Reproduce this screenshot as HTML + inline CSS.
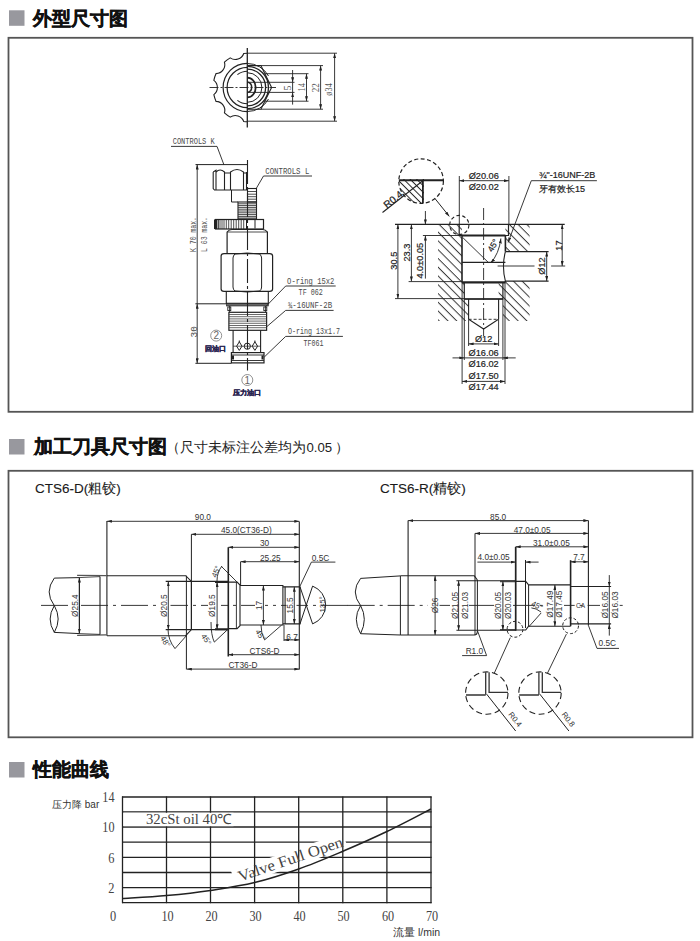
<!DOCTYPE html>
<html><head><meta charset="utf-8">
<style>
html,body{margin:0;padding:0;background:#fff;width:700px;height:941px;overflow:hidden}
svg{position:absolute;left:0;top:0;display:block}
text{font-family:"Liberation Sans",sans-serif}
.s{font-family:"Liberation Serif",serif}
.m{font-family:"Liberation Mono",monospace}
</style></head><body>
<svg width="700" height="941" viewBox="0 0 700 941">
<!-- titles -->
<rect x="9" y="10.3" width="15.5" height="15.5" fill="#98989e"/>
<text x="33" y="25" font-size="18.5" font-weight="bold" fill="#111" stroke="#111" stroke-width="0.45">外型尺寸图</text>
<rect x="9" y="439" width="15.5" height="15.5" fill="#98989e"/>
<text x="34" y="453" font-size="18.5" font-weight="bold" fill="#111" stroke="#111" stroke-width="0.45">加工刀具尺寸图</text>
<text x="166" y="451.5" font-size="14" fill="#222">（</text><text x="180" y="451.5" font-size="14" fill="#222">尺寸未标注公差均为</text><text x="306.5" y="451.5" font-size="13.2" fill="#222">0.05</text><text x="335" y="451.5" font-size="14" fill="#222">）</text>
<rect x="9" y="762" width="15.5" height="15.5" fill="#98989e"/>
<text x="33" y="776" font-size="18.5" font-weight="bold" fill="#111" stroke="#111" stroke-width="0.45">性能曲线</text>

<!-- boxes -->
<rect x="8.5" y="37.8" width="684" height="374" fill="none" stroke="#555" stroke-width="1.8"/>
<rect x="8.5" y="470.8" width="684" height="266.5" fill="none" stroke="#555" stroke-width="1.8"/>

<defs>
  <marker id="ar" viewBox="0 0 10 6" refX="10" refY="3" markerWidth="5" markerHeight="3" markerUnits="userSpaceOnUse" orient="auto-start-reverse"><path d="M0,0 L10,3 L0,6z" fill="#222"/></marker>
  <pattern id="hatch" patternUnits="userSpaceOnUse" width="8.5" height="8.5" patternTransform="rotate(45)"><line x1="0" y1="0" x2="0" y2="8.5" stroke="#333" stroke-width="1.1"/></pattern>
</defs>
<!-- ===== DRAWING 1: top view ===== -->
<g stroke="#222" fill="none" stroke-width="1">
  <path d="M247.30,53.30 A34.2,34.2 0 0 0 243.73,53.49 A8.9,8.9 0 0 1 230.20,57.88 A34.2,34.2 0 0 0 224.42,62.08 A8.9,8.9 0 0 1 216.06,73.59 A34.2,34.2 0 0 0 213.85,80.39 A8.9,8.9 0 0 1 213.85,94.61 A34.2,34.2 0 0 0 216.06,101.41 A8.9,8.9 0 0 1 224.42,112.92 A34.2,34.2 0 0 0 230.20,117.12 A8.9,8.9 0 0 1 243.73,121.51 A34.2,34.2 0 0 0 247.30,121.70" stroke-width="1.1"/>
  <path d="M247.3,63.3 A24.2,24.2 0 0 0 247.3,111.7" stroke-width="1.2"/>
  <path d="M247.3,67.3 A20.2,20.2 0 0 0 247.3,107.7" stroke-width="1.2"/>
  <path d="M237.4,74.6 A16.3,16.3 0 0 1 247.3,71.2" stroke-width="1.1"/>
  <path d="M237.4,100.4 A16.3,16.3 0 0 0 247.3,103.8" stroke-width="1.1"/>
  <!-- right half -->
  <path d="M247.3,65.6 L260.9,65.6 L271.6,87.5 L260.9,109.2 L247.3,109.2" stroke-width="1.1"/>
  <path d="M247.3,63.5 A24,24 0 0 1 268.5,76 M268.5,99 A24,24 0 0 1 247.3,111.5" stroke-width="1"/>
  <path d="M247.3,66.3 A21.2,21.2 0 0 1 247.3,108.7" stroke-width="1.3"/>
  <path d="M247.3,69.2 A18.3,18.3 0 0 1 247.3,105.8" stroke-width="1.3"/>
  <path d="M247.3,72.7 A14.6,14.8 0 0 1 247.3,102.3" stroke-width="1"/>
  <path d="M247.3,77.6 A8.3,9.8 0 0 1 247.3,97.4" stroke-width="1.8"/>
  <path d="M247.3,82 A5.4,5.4 0 0 1 247.3,92.6" stroke-width="1.5"/>
  <line x1="247.3" y1="48" x2="247.3" y2="127.5" stroke-width="1.3"/>
  <line x1="209.5" y1="87.5" x2="276" y2="87.5" stroke-dasharray="9,2,2,2" stroke-width="0.9"/>
  <!-- dimension lines -->
  <g stroke-width="0.9">
    <line x1="247.3" y1="53.2" x2="337" y2="53.2"/>
    <line x1="247.3" y1="121.2" x2="337" y2="121.2"/>
    <line x1="334.6" y1="53.2" x2="334.6" y2="121.2" marker-start="url(#ar)" marker-end="url(#ar)"/>
    <line x1="260.9" y1="65.6" x2="323" y2="65.6"/>
    <line x1="260.9" y1="109.2" x2="323" y2="109.2"/>
    <line x1="320.6" y1="65.6" x2="320.6" y2="109.2" marker-start="url(#ar)" marker-end="url(#ar)"/>
    <line x1="265" y1="73.7" x2="308.5" y2="73.7"/>
    <line x1="265" y1="101.2" x2="308.5" y2="101.2"/>
    <line x1="306.5" y1="73.7" x2="306.5" y2="101.2" marker-start="url(#ar)" marker-end="url(#ar)"/>
    <line x1="247.3" y1="82.3" x2="294.5" y2="82.3"/>
    <line x1="247.3" y1="92.4" x2="294.5" y2="92.4"/>
    <line x1="292.6" y1="70" x2="292.6" y2="82.3" marker-end="url(#ar)"/>
    <line x1="292.6" y1="104.6" x2="292.6" y2="92.4" marker-end="url(#ar)"/>
    <line x1="292.6" y1="82.3" x2="292.6" y2="92.4"/>
  </g>
</g>
<g font-size="9.5" fill="#555" text-anchor="middle">
  <text class="s" transform="translate(290.5,87.9) rotate(-90)" x="0" y="0" textLength="5" lengthAdjust="spacingAndGlyphs">5</text>
  <text class="s" transform="translate(304.8,87.2) rotate(-90)" x="0" y="0" textLength="8.5" lengthAdjust="spacingAndGlyphs">14</text>
  <text class="s" transform="translate(319.3,87.8) rotate(-90)" x="0" y="0" textLength="9" lengthAdjust="spacingAndGlyphs">22</text>
  <text class="s" transform="translate(332.2,89.4) rotate(-90)" x="0" y="0" textLength="12.5" lengthAdjust="spacingAndGlyphs">ø34</text>
</g>

<!-- ===== DRAWING 1b: side view ===== -->
<g stroke="#222" fill="none" stroke-width="1">
  <!-- CONTROLS K leader -->
  <line x1="171" y1="146.4" x2="217" y2="146.4" stroke-width="0.9"/>
  <line x1="217" y1="146.4" x2="224" y2="165" stroke-width="0.9"/>
  <line x1="195.5" y1="164.6" x2="247.5" y2="164.6" stroke-width="1"/>
  <!-- K cap nut -->
  <path d="M213.2,172 L216,170.3 L216,190 M213.2,172 L213.2,188.5 L214.5,190 L246.5,190 L246.5,172" stroke-width="1.1"/>
  <path d="M216,172 Q220,168 224.5,172 L224.5,190 M230.5,190 L230.5,172 Q237,167 243.5,172 L243.5,190 M224.5,173 L230.5,173 M243.5,173 L246.5,173" stroke-width="1.1"/>
  <!-- stem under K -->
  <path d="M231.5,190 L231.5,202 L238,202" stroke-width="1"/>
  <!-- CONTROLS L leader -->
  <line x1="263.5" y1="176" x2="312" y2="176" stroke-width="0.9"/>
  <line x1="263.5" y1="176" x2="256.5" y2="188" stroke-width="0.9"/>
  <!-- L knurl -->
  <rect x="247.5" y="188.5" width="9" height="13.5" stroke-width="1.1"/>
  <path d="M247.5,191.5 H256.5 M247.5,194.2 H256.5 M247.5,196.7 H256.5 M247.5,199.2 H256.5" stroke-width="0.8"/>
  <!-- thread -->
  <rect x="238" y="202" width="18.5" height="17" stroke-width="1.1"/>
  <path d="M238,203.8 H256.5 M238,205.6 H256.5 M238,207.4 H256.5 M238,209.2 H256.5 M238,211 H256.5 M238,212.8 H256.5 M238,214.6 H256.5 M238,216.4 H256.5 M238,218 H256.5" stroke-width="0.9" stroke="#333"/>
  <!-- knurled nut -->
  <rect x="215.5" y="219.5" width="48" height="9.5" stroke-width="1.2"/>
  <path d="M217,219.5 V229 M218.5,219.5 V229 M220,219.5 V229 M222,219.5 V229 M224,219.5 V229 M226.3,219.5 V229 M228.7,219.5 V229 M231.2,219.5 V229 M233.7,219.5 V229 M236.2,219.5 V229 M238.7,219.5 V229 M241.2,219.5 V229 M243.7,219.5 V229" stroke-width="0.8"/>
  <path d="M215.5,219.5 V229" stroke-width="3"/>
  <path d="M246.5,219.5 V229 M255,220 V228.5" stroke-width="1"/>
  <!-- body -->
  <path d="M227.1,253.7 V232 Q229,229.5 232,229.5 H262.5 Q265.5,229.5 267.4,232 V253.7" stroke-width="1.2"/>
  <line x1="227.1" y1="232" x2="267.4" y2="232" stroke-width="0.8"/>
  <!-- hex -->
  <path d="M221.1,256 Q221.1,253.7 224,253.7 H269.7 Q272.6,253.7 272.6,256 V289 Q272.6,291.4 269.7,291.4 H224 Q221.1,291.4 221.1,289 Z" stroke-width="1.2"/>
  <path d="M234.9,254 Q233,256 233,258 V287 Q233,289.5 234.9,291 M259.7,254 Q261.6,256 261.6,258 V287 Q261.6,289.5 259.7,291 M234.9,254 Q247,252 259.7,254 M234.9,291 Q247,293 259.7,291" stroke-width="1"/>
  <!-- lower body -->
  <path d="M226.3,291.4 V303.4 H268.3 V291.4" stroke-width="1.1"/>
  <rect x="226.3" y="303.4" width="42" height="2.6" fill="#666" stroke-width="0.6"/>
  <!-- o-ring groove -->
  <path d="M229.7,306 V312.3 M265.7,306 V312.3" stroke-width="1"/>
  <rect x="227.8" y="307" width="3" height="3.5" stroke-width="0.9"/>
  <rect x="263.8" y="307" width="3" height="3.5" stroke-width="0.9"/>
  <!-- threads -->
  <rect x="228.9" y="312.3" width="37.7" height="18" stroke-width="1.2"/>
  <path d="M228.9,314.5 H266.6 M228.9,316.7 H266.6 M228.9,318.9 H266.6 M228.9,321.1 H266.6 M228.9,323.3 H266.6 M228.9,325.5 H266.6 M228.9,327.7 H266.6" stroke-width="0.8" stroke="#444"/>
  <!-- stem -->
  <path d="M233.1,330.3 V352.6 M260.6,330.3 V352.6" stroke-width="1.1"/>
  <g stroke-width="1">
    <path d="M239.3,341.8 L242,346.2 L239.3,350.4 L236.6,346.2 Z M239.3,340.5 V342"/>
    <circle cx="247.3" cy="346.2" r="3.1"/>
    <path d="M254.9,341.8 L257.6,346.2 L254.9,350.4 L252.2,346.2 Z M254.9,340.5 V342"/>
    <path d="M233.1,346.2 H260.6" stroke-width="0.7"/>
  </g>
  <!-- bottom ring -->
  <rect x="231.4" y="352.6" width="32.6" height="10.3" stroke-width="1.2"/>
  <path d="M231.4,355 H264 M231.4,360.5 H264" stroke-width="0.9"/>
  <rect x="232" y="355.5" width="2" height="4" fill="#222" stroke="none"/>
  <rect x="261.5" y="355.5" width="2" height="4" fill="#222" stroke="none"/>
  <!-- center line -->
  <line x1="247.5" y1="160" x2="247.5" y2="370.6" stroke-width="1.1" stroke-dasharray="24,3,3,3"/>
  <!-- dims -->
  <line x1="197.2" y1="164.6" x2="197.2" y2="303.8" stroke-width="0.9" marker-start="url(#ar)"/>
  <line x1="195.4" y1="303.8" x2="226.3" y2="303.8" stroke-width="1"/>
  <line x1="197.2" y1="303.8" x2="197.2" y2="363.3" stroke-width="0.9" marker-start="url(#ar)" marker-end="url(#ar)"/>
  <line x1="195.4" y1="363.3" x2="231.4" y2="363.3" stroke-width="1"/>
  <!-- right leaders -->
  <g stroke-width="0.9">
    <path d="M335.7,286 H285.7 L266,306.4"/>
    <path d="M333.6,310.4 H285.7 L266.4,327"/>
    <path d="M342.9,336.4 H285.7 L264.3,357"/>
  </g>
  <!-- port circles -->
  <circle cx="216.2" cy="335.6" r="5.5" stroke-width="0.8" stroke="#777"/>
  <circle cx="247.3" cy="380" r="5.5" stroke-width="0.8" stroke="#777"/>
</g>
<g fill="#4a4a4a">
  <g class="m" font-size="8.5" style="font-family:'Liberation Serif',serif">
    <text class="m" x="172.7" y="144" font-size="9.5" textLength="42" lengthAdjust="spacingAndGlyphs">CONTROLS K</text>
    <text class="m" x="265.3" y="173.6" font-size="9.5" textLength="44" lengthAdjust="spacingAndGlyphs">CONTROLS L</text>
    <text class="m" x="287.1" y="283.8" font-size="9.5" textLength="47.2" lengthAdjust="spacingAndGlyphs">O-ring 15x2</text>
    <text class="m" x="298.6" y="295.2" font-size="9.5" textLength="24.3" lengthAdjust="spacingAndGlyphs">TF 062</text>
    <text class="m" x="287.9" y="308" font-size="9.5" textLength="44.2" lengthAdjust="spacingAndGlyphs">¾-16UNF-2B</text>
    <text class="m" x="287.9" y="334.4" font-size="9.5" textLength="52.1" lengthAdjust="spacingAndGlyphs">O-ring 13x1.7</text>
    <text class="m" x="303.6" y="345.8" font-size="9.5" textLength="20" lengthAdjust="spacingAndGlyphs">TF061</text>
    <text class="m" transform="translate(196,252) rotate(-90)" x="0" y="0" font-size="9.5" textLength="35" lengthAdjust="spacingAndGlyphs">K 70 max.</text>
    <text class="m" transform="translate(207,252) rotate(-90)" x="0" y="0" font-size="9.5" textLength="35" lengthAdjust="spacingAndGlyphs">L 63 max.</text>
    <text class="m" transform="translate(196.6,337.5) rotate(-90)" x="0" y="0" font-size="9.5">30</text>
  </g>
  <text x="216.3" y="339.2" font-size="10" fill="#666" text-anchor="middle">2</text>
  <text x="247.3" y="383.6" font-size="10" fill="#666" text-anchor="middle">1</text>
  <text x="204.8" y="350.6" font-size="7.2" fill="#2a2550" stroke="#2a2550" stroke-width="0.3" font-weight="bold" textLength="21.2" lengthAdjust="spacingAndGlyphs">回油口</text>
  <text x="232.5" y="394.6" font-size="7.2" fill="#2a2550" stroke="#2a2550" stroke-width="0.3" font-weight="bold" textLength="28.6" lengthAdjust="spacingAndGlyphs">压力油口</text>
</g>

<!-- ===== DRAWING 1c: cavity ===== -->
<defs>
  <pattern id="h1" patternUnits="userSpaceOnUse" width="6.2" height="6.2" patternTransform="rotate(-45)"><line x1="3" y1="-1" x2="3" y2="8" stroke="#222" stroke-width="0.9"/></pattern>
  <pattern id="h2" patternUnits="userSpaceOnUse" width="4.6" height="4.6" patternTransform="rotate(-45)"><line x1="2.3" y1="-1" x2="2.3" y2="6" stroke="#222" stroke-width="1"/></pattern>
  <clipPath id="cl1"><path d="M438,224.5 H462 V282.3 H464.3 V299 H468.6 V321 H438 Z"/></clipPath>
  <clipPath id="cl2"><path d="M505.4,224.5 H529.6 V251.6 H505.4 Z M505.4,281.1 H529.6 V321 H502.9 V299 H498.6 V282.3 H505.4Z"/></clipPath>
  <clipPath id="cl3"><path d="M398.6,180 H422.9 V204 H398.6 Z"/></clipPath>
  <clipPath id="cc3"><circle cx="421.1" cy="181.1" r="22.3"/></clipPath>
</defs>
<g stroke="#222" fill="none" stroke-width="1">
  <rect x="437" y="224" width="33" height="98" fill="url(#h1)" stroke="none" clip-path="url(#cl1)"/>
  <rect x="498" y="224" width="33" height="98" fill="url(#h1)" stroke="none" clip-path="url(#cl2)"/>
  <!-- top surface -->
  <line x1="395" y1="224.4" x2="564.7" y2="224.4" stroke-width="1.2"/>
  <!-- counterbore -->
  <path d="M459.2,224.4 V235.5 H508.5 V224.4" stroke-width="1.2"/>
  <line x1="462" y1="235.5" x2="505.4" y2="235.5" stroke-width="2"/>
  <!-- thread bore -->
  <path d="M462,235.5 V282.3 M505.4,235.5 V251.6 M505.4,281.1 V282.3" stroke-width="1.6"/>
  <line x1="462" y1="262.4" x2="505.4" y2="262.4" stroke-width="1.1"/>
  <line x1="462" y1="282.3" x2="505.4" y2="282.3" stroke-width="2.2"/>
  <!-- bore 2 -->
  <path d="M464.3,282.3 V299 H502.9 V282.3" stroke-width="1.2"/>
  <line x1="464.3" y1="299" x2="502.9" y2="299" stroke-width="1.6"/>
  <!-- bore 3 -->
  <path d="M468.6,299 V319.3 L483.6,329 L498.6,319.3 V299" stroke-width="1.1"/>
  <line x1="468.6" y1="319.3" x2="498.6" y2="319.3" stroke-dasharray="3,2" stroke-width="0.9"/>
  <!-- port -->
  <path d="M505.4,251.6 Q501.5,266.3 505.4,281.1" stroke-width="1.1"/>
  <line x1="505.4" y1="251.6" x2="548.6" y2="251.6" stroke-width="1.1"/>
  <line x1="505.4" y1="281.1" x2="548.6" y2="281.1" stroke-width="1.1"/>
  <path d="M497.6,266 H534.5 M551.1,266 H565.2" stroke-width="0.9"/>
  <!-- 45 deg -->
  <line x1="463.1" y1="237.9" x2="488.3" y2="262.4" stroke-width="0.9"/>
  <path d="M500.9,238.5 Q499,254 490.6,263" stroke-width="0.9" marker-start="url(#ar)" marker-end="url(#ar)"/>
  <!-- center line -->
  <line x1="483.6" y1="208" x2="483.6" y2="336" stroke-dasharray="12,3,2,3" stroke-width="0.9"/>
  <!-- left dims -->
  <g stroke-width="0.9">
    <line x1="397.9" y1="224.4" x2="397.9" y2="298.6" marker-start="url(#ar)" marker-end="url(#ar)"/>
    <line x1="395" y1="298.6" x2="464.3" y2="298.6"/>
    <line x1="411.4" y1="224.4" x2="411.4" y2="281.4" marker-start="url(#ar)" marker-end="url(#ar)"/>
    <line x1="408.6" y1="281.6" x2="462" y2="281.6"/>
    <line x1="425.4" y1="211" x2="425.4" y2="224.4" marker-end="url(#ar)"/>
    <line x1="425.4" y1="278.6" x2="425.4" y2="235.5" marker-end="url(#ar)"/>
    <line x1="422.9" y1="235.5" x2="462" y2="235.5"/>
    <!-- right dims -->
    <line x1="562.2" y1="224.4" x2="562.2" y2="266" marker-start="url(#ar)" marker-end="url(#ar)"/>
    <line x1="546.7" y1="251.6" x2="546.7" y2="281.1" marker-start="url(#ar)" marker-end="url(#ar)"/>
    <!-- top dims -->
    <line x1="459.3" y1="176" x2="459.3" y2="224.4"/>
    <line x1="508.9" y1="176" x2="508.9" y2="224.4"/>
    <line x1="459.3" y1="180.7" x2="508.9" y2="180.7" marker-start="url(#ar)" marker-end="url(#ar)"/>
    <!-- bottom dims -->
    <line x1="462.1" y1="282.3" x2="462.1" y2="384"/>
    <line x1="505" y1="282.3" x2="505" y2="384"/>
    <line x1="464.3" y1="299" x2="464.3" y2="360"/>
    <line x1="502.9" y1="299" x2="502.9" y2="360"/>
    <line x1="468.6" y1="320" x2="468.6" y2="346"/>
    <line x1="498.6" y1="320" x2="498.6" y2="346"/>
    <line x1="468.6" y1="343.9" x2="498.6" y2="343.9" marker-start="url(#ar)" marker-end="url(#ar)"/>
    <line x1="452.5" y1="357.9" x2="464.3" y2="357.9" marker-end="url(#ar)"/>
    <line x1="515.7" y1="357.9" x2="502.9" y2="357.9" marker-end="url(#ar)"/>
    <line x1="464.3" y1="357.9" x2="502.9" y2="357.9"/>
    <line x1="462.1" y1="381.4" x2="505" y2="381.4" marker-start="url(#ar)" marker-end="url(#ar)"/>
    <!-- thread note leader -->
    <path d="M596.9,180.7 H531.3 L508.1,242.4" marker-end="url(#ar)"/>
  </g>
  <!-- detail circle -->
  <rect x="398" y="179" width="26" height="26" fill="url(#h2)" stroke="none" clip-path="url(#cc3)"/>
  <g clip-path="url(#cc3)"><rect x="398.6" y="180" width="24.3" height="24" fill="none" stroke="none"/></g>
  <circle cx="421.1" cy="181.1" r="22.3" stroke-dasharray="4,2.5" stroke-width="1.2"/>
  <line x1="399" y1="180.2" x2="443.4" y2="180.2" stroke-width="2"/>
  <line x1="422.9" y1="180.2" x2="422.9" y2="203.2" stroke-width="1.8"/>
  <line x1="382.5" y1="212.5" x2="422.5" y2="181" stroke-width="1.1"/>
  <path d="M435,198.6 L449.3,216.4" marker-end="url(#ar)"/>
  <circle cx="459.3" cy="225" r="9.6" stroke-dasharray="3.5,2.5" stroke-width="1.1"/>
</g>
<g fill="#222" font-size="9.2" text-anchor="middle" stroke="#222" stroke-width="0.2">
  <text x="483.7" y="178.8">Ø20.06</text>
  <text x="483.7" y="190.3">Ø20.02</text>
  <text x="483.6" y="341.8">Ø12</text>
  <text x="483.6" y="356.3">Ø16.06</text>
  <text x="483.6" y="367">Ø16.02</text>
  <text x="483.6" y="379.2">Ø17.50</text>
  <text x="483.6" y="390">Ø17.44</text>
  <text transform="translate(396.8,260.7) rotate(-90)">30.5</text>
  <text transform="translate(410.3,252.6) rotate(-90)">23.3</text>
  <text transform="translate(423.3,260.7) rotate(-90)">4.0±0.05</text>
  <text transform="translate(545,266) rotate(-90)">Ø12</text>
  <text transform="translate(562,245.6) rotate(-90)">17</text>
  <text transform="translate(495.5,247) rotate(-60)" font-size="8.5">45°</text>
  <text transform="translate(395.3,202.2) rotate(-39)" font-size="10">R0.4</text>
  <text x="539" y="178.2" text-anchor="start" font-size="9">¾"-16UNF-2B</text>
  <text x="539" y="191.5" text-anchor="start" font-size="9">牙有效长15</text>
</g>

<!-- ===== DRAWING 2a: CTS6-D ===== -->
<g stroke="#222" fill="none" stroke-width="1">
  <!-- centerline -->
  <line x1="41" y1="605.4" x2="348" y2="605.4" stroke-dasharray="27,5,3,5" stroke-width="0.9"/>
  <g fill="#fff" stroke="none"><rect x="70" y="603" width="11" height="5"/><rect x="157" y="603" width="13.5" height="5"/><rect x="208" y="603" width="13" height="5"/><rect x="255" y="603" width="10" height="5"/><rect x="286.5" y="603" width="10" height="5"/></g>
  <!-- shank break -->
  <path d="M54.3,578.1 Q44,592 54.3,605.6 Q62,619 54.3,632.4 Q46,619 54.3,605.6" stroke-width="1"/>
  <path d="M54.3,578.1 L79.4,577.6 M54.3,632.4 L79.4,633.6" stroke-width="1"/>
  <line x1="79.4" y1="577.6" x2="79.4" y2="633.6" stroke-width="1.1"/>
  <path d="M77.1,575.3 L106.3,575.6 M77.1,635.3 L106.3,634.8" stroke-width="1.2" stroke="#555"/>
  <path d="M79.4,577.6 L100,576.6 M79.4,633.6 L100,634.4" stroke-width="0.8"/>
  <line x1="100" y1="576.6" x2="100" y2="634.4" stroke-width="1.1"/>
  <!-- body -->
  <path d="M106.9,575.7 H185.7 L191.4,581.4 V629.6 L185.7,635.7 H106.9" stroke-width="1.1"/>
  <line x1="106.9" y1="521" x2="106.9" y2="635.7" stroke-width="1.1"/>
  <line x1="186.4" y1="575.7" x2="186.4" y2="669.5" stroke-width="1"/>
  <!-- ø20.5 section -->
  <path d="M165.7,581.4 H228.3 M165.7,629.6 H228.3" stroke-width="1.1"/>
  <path d="M215,582.1 H228.3 M215,629.3 H228.3" stroke-width="2"/>
  <line x1="191.4" y1="534.3" x2="191.4" y2="629.6" stroke-width="1"/>
  <line x1="228.3" y1="547.3" x2="228.3" y2="656.5" stroke-width="1.6"/>
  <!-- collar -->
  <path d="M228.3,582.1 H237.1 L240,585 V625.7 L237.1,628.6 H228.3" stroke-width="1.1"/>
  <line x1="236.4" y1="582.1" x2="236.4" y2="628.6" stroke-width="0.9"/>
  <!-- ø17 section -->
  <path d="M240,585.5 H282.9 V625 H240" stroke-width="1.1"/>
  <line x1="240.6" y1="561.7" x2="240.6" y2="585" stroke-width="1"/>
  <!-- ø15.5 section -->
  <path d="M282.9,586.8 H300 V623.9 H282.9" stroke-width="1.2"/>
  <line x1="285.1" y1="586.8" x2="285.1" y2="623.9" stroke-width="1.1"/>
  <line x1="284" y1="625" x2="284" y2="641" stroke-width="0.9"/>
  <line x1="299.3" y1="521.5" x2="299.3" y2="669.6" stroke-width="1.1"/>
  <!-- tip 135 -->
  <path d="M300,586.8 L312.6,623.9 M300,623.9 L312.6,586.1" stroke-width="1"/>
  <path d="M312.6,586.1 A20.2,20.2 0 0 1 312.6,623.9" stroke-width="1"/>
  <!-- chamfer angle marks -->
  <path d="M221.4,566.4 L237.1,582.1 M214.3,642.1 L227.9,629.3 M175,648.6 L186.4,635.7 M264.6,639.9 L281.7,625" stroke-width="0.9"/>
  <path d="M217,581 Q217,572 222,566 M211,622 Q211,635 214.3,642.1 M168,629 Q168,640 175,648.6 M261,625 Q261,634 264.6,639.9" stroke-width="0.9"/>
  <!-- dims -->
  <g stroke-width="0.9">
    <line x1="106.9" y1="521.3" x2="299.3" y2="521.3" marker-start="url(#ar)" marker-end="url(#ar)"/>
    <line x1="191.4" y1="534.3" x2="299.3" y2="534.3" marker-start="url(#ar)" marker-end="url(#ar)"/>
    <line x1="228.3" y1="547.3" x2="299.3" y2="547.3" marker-start="url(#ar)" marker-end="url(#ar)"/>
    <line x1="240.6" y1="561.7" x2="299.3" y2="561.7" marker-start="url(#ar)" marker-end="url(#ar)"/>
    <line x1="228.3" y1="654.7" x2="299.3" y2="654.7" marker-start="url(#ar)" marker-end="url(#ar)"/>
    <line x1="186.9" y1="669.1" x2="299.3" y2="669.1" marker-start="url(#ar)" marker-end="url(#ar)"/>
    <line x1="284" y1="639.9" x2="299.3" y2="639.9" marker-start="url(#ar)" marker-end="url(#ar)"/>
    <line x1="79.4" y1="577.6" x2="79.4" y2="633.6" marker-start="url(#ar)" marker-end="url(#ar)"/>
    <line x1="168.3" y1="581.4" x2="168.3" y2="629.6" marker-start="url(#ar)" marker-end="url(#ar)"/>
    <line x1="217.1" y1="582.1" x2="217.1" y2="629.3" marker-start="url(#ar)" marker-end="url(#ar)"/>
    <line x1="263.4" y1="585.5" x2="263.4" y2="625" marker-start="url(#ar)" marker-end="url(#ar)"/>
    <line x1="294.3" y1="586.8" x2="294.3" y2="623.9" marker-start="url(#ar)" marker-end="url(#ar)"/>
    <path d="M335.4,562.1 H311.4 L300,586.1"/>
  </g>
</g>
<g fill="#333" font-size="8.3" text-anchor="middle">
  <text x="202.9" y="520.3">90.0</text>
  <text x="246.3" y="532.5">45.0(CT36-D)</text>
  <text x="264.6" y="546">30</text>
  <text x="270.3" y="560.8">25.25</text>
  <text x="320.5" y="560.8">0.5C</text>
  <text x="292" y="639.5">6.7</text>
  <text x="264.6" y="653.5">CTS6-D</text>
  <text x="242.9" y="668.3">CT36-D</text>
  <text transform="translate(77.5,605.6) rotate(-90)">Ø25.4</text>
  <text transform="translate(166.5,605.6) rotate(-90)">Ø20.5</text>
  <text transform="translate(215.3,605.6) rotate(-90)">Ø19.5</text>
  <text transform="translate(261.7,605.4) rotate(-90)">17</text>
  <text transform="translate(292.6,605.4) rotate(-90)">15.5</text>
  <text transform="translate(324.5,604.4) rotate(-90)" font-size="7.8">135°</text>
  <text transform="translate(215.7,571.4) rotate(-68)" y="3" font-size="7.8">45°</text>
  <text transform="translate(206.5,639.3) rotate(58)" y="3" font-size="7.8">45°</text>
  <text transform="translate(260.7,634.9) rotate(58)" y="3" font-size="7.8">45°</text>
  <text transform="translate(165.7,641.4) rotate(58)" y="3" font-size="7.8">48°</text>
</g>
<text x="35" y="493.3" font-size="13.5" fill="#1a1a1a" stroke="#1a1a1a" stroke-width="0.12">CTS6-D(粗铰)</text>

<!-- ===== DRAWING 2b: CTS6-R ===== -->
<g stroke="#222" fill="none" stroke-width="1">
  <line x1="347.7" y1="605.4" x2="626" y2="605.4" stroke-dasharray="27,5,3,5" stroke-width="0.9"/>
  <g fill="#fff" stroke="none"><rect x="428" y="603" width="11.5" height="5"/><rect x="450" y="603" width="19" height="5"/><rect x="494" y="603" width="19" height="5"/><rect x="546" y="603" width="18" height="5"/><rect x="600" y="603" width="19" height="5"/></g>
  <!-- shank -->
  <path d="M360.6,578.4 Q350,592 360.6,605.6 Q368,619 360.6,633.7 Q352,619 360.6,605.6" stroke-width="1"/>
  <path d="M360.6,578.4 L400.4,575.9 M360.6,633.7 L400.4,635" stroke-width="1"/>
  <line x1="400.4" y1="575.9" x2="400.4" y2="635" stroke-width="1"/>
  <!-- body ø26 -->
  <path d="M400.4,575.8 H474.3 L477.4,580 M400.4,635 H474.3 Q477.4,635 477.4,630.7" stroke-width="1.1"/>
  <line x1="408.1" y1="520.6" x2="408.1" y2="635" stroke-width="1.1"/>
  <line x1="475" y1="533.4" x2="475" y2="635" stroke-width="1"/>
  <line x1="477.4" y1="580" x2="477.4" y2="630.7" stroke-width="1"/>
  <!-- ø21 -->
  <path d="M456.4,580.7 H515.7 M456.4,630.3 H515.7" stroke-width="1.1"/>
  <path d="M500,581.2 H515.7 M500,630 H515.7" stroke-width="2" stroke="#444"/>
  <line x1="515.7" y1="546.8" x2="515.7" y2="630.7" stroke-width="1.7"/>
  <!-- short section -->
  <path d="M515.7,581.4 H525.7 L528.6,584.9 M515.7,630 H525.7 L528.6,626.2" stroke-width="1.1"/>
  <line x1="525.5" y1="560" x2="525.5" y2="628" stroke-width="1"/>
  <line x1="528.6" y1="584.9" x2="528.6" y2="626.2" stroke-width="1"/>
  <!-- ø17.49 -->
  <path d="M528.6,584.9 H570.6 M528.6,626.2 H570.6" stroke-width="1.1"/>
  <line x1="570.6" y1="560.2" x2="570.6" y2="626.2" stroke-width="1.6"/>
  <!-- ø16 sections -->
  <path d="M570.6,586.5 H611.1 M570.6,623.9 H611.1" stroke-width="1.1"/>
  <line x1="588.4" y1="520.6" x2="588.4" y2="625.4" stroke-width="1.1"/>
  <!-- 45 chamfer -->
  <path d="M528.6,627 L541.2,612.9 M531.4,607.9 Q536,608 541,612" stroke-width="0.9"/>
  <path d="M525.7,627.9 L540,612" stroke-width="0"/>
  <!-- dashed detail markers -->
  <circle cx="515" cy="629.3" r="7.9" stroke-dasharray="3,2" stroke-width="1"/>
  <circle cx="570.6" cy="625.7" r="7.9" stroke-dasharray="3,2" stroke-width="1"/>
  <path d="M510.3,637.6 L494.3,673.1 M566.4,634.1 L547.5,673.1" stroke-width="0.9"/>
  <!-- detail circles -->
  <circle cx="486.8" cy="693.1" r="21.2" stroke-dasharray="6,3.5" stroke-width="1.1"/>
  <path d="M485.7,672.3 V694.5 M489.1,672.3 V692.3 H508 M466,695 H485.7" stroke-width="1.3" stroke="#333"/>
  <line x1="486.6" y1="694.1" x2="515.7" y2="731" stroke-width="1"/>
  <circle cx="540" cy="693.1" r="21.2" stroke-dasharray="6,3.5" stroke-width="1.1"/>
  <path d="M538.9,672.3 V694.5 M542.3,672.3 V692.3 H561.2 M519.2,695 H538.9" stroke-width="1.3" stroke="#333"/>
  <line x1="539.8" y1="694.1" x2="568.9" y2="731" stroke-width="1"/>
  <!-- dims -->
  <g stroke-width="0.9">
    <line x1="408.1" y1="520.6" x2="588.4" y2="520.6" marker-start="url(#ar)" marker-end="url(#ar)"/>
    <line x1="475" y1="533.4" x2="588.4" y2="533.4" marker-start="url(#ar)" marker-end="url(#ar)"/>
    <line x1="515.7" y1="546.8" x2="588.4" y2="546.8" marker-start="url(#ar)" marker-end="url(#ar)"/>
    <line x1="477.4" y1="562.1" x2="515.7" y2="562.1" marker-end="url(#ar)"/>
    <line x1="538.6" y1="562.1" x2="525.5" y2="562.1" marker-end="url(#ar)"/>
    <line x1="570.6" y1="561.8" x2="588.4" y2="561.8" marker-start="url(#ar)" marker-end="url(#ar)"/>
    <line x1="435.1" y1="575.9" x2="435.1" y2="635" marker-start="url(#ar)" marker-end="url(#ar)"/>
    <line x1="458.6" y1="580.7" x2="458.6" y2="630.3" marker-start="url(#ar)" marker-end="url(#ar)"/>
    <line x1="502.9" y1="581.4" x2="502.9" y2="630" marker-start="url(#ar)" marker-end="url(#ar)"/>
    <line x1="554.9" y1="584.9" x2="554.9" y2="626.2" marker-start="url(#ar)" marker-end="url(#ar)"/>
    <line x1="609.3" y1="575.1" x2="609.3" y2="586.5" marker-end="url(#ar)"/>
    <line x1="609.3" y1="635.6" x2="609.3" y2="623.9" marker-end="url(#ar)"/>
    <line x1="609.3" y1="586.5" x2="609.3" y2="623.9"/>
    <path d="M486.6,655.6 H462.1 M486.6,655.6 L477.6,631.1"/>
    <path d="M619,648.4 H597 L588.4,625.4"/>
  </g>
</g>
<g fill="#333" font-size="8.3" text-anchor="middle">
  <text x="498.1" y="520">85.0</text>
  <text x="532.1" y="532.8">47.0±0.05</text>
  <text x="551.4" y="545.6">31.0±0.05</text>
  <text x="493.6" y="559.5">4.0±0.05</text>
  <text x="578.9" y="560.2">7.7</text>
  <text x="474.4" y="654">R1.0</text>
  <text x="607.3" y="646">0.5C</text>
  <text transform="translate(438.3,605.4) rotate(-90)">Ø26</text>
  <text transform="translate(457.6,605.4) rotate(-90)">Ø21.05</text>
  <text transform="translate(467.6,605.4) rotate(-90)">Ø21.03</text>
  <text transform="translate(501.2,605.4) rotate(-90)">Ø20.05</text>
  <text transform="translate(511.2,605.4) rotate(-90)">Ø20.03</text>
  <text transform="translate(552.9,604.2) rotate(-90)">Ø17.49</text>
  <text transform="translate(561.6,604.2) rotate(-90)">Ø17.45</text>
  <text transform="translate(608.2,605) rotate(-90)">Ø16.05</text>
  <text transform="translate(617.6,605) rotate(-90)">Ø16.03</text>
  <text transform="translate(536,608) rotate(25)" font-size="7.8">45°</text>
  <text transform="translate(513,721) rotate(52)" font-size="7.8">R0.4</text>
  <text transform="translate(566.2,721) rotate(52)" font-size="7.8">R0.8</text>
  <text x="580.5" y="608" font-size="6.5">CA</text>
</g>
<text x="380" y="493.3" font-size="13.5" fill="#1a1a1a" stroke="#1a1a1a" stroke-width="0.12">CTS6-R(精铰)</text>

<!-- CHART -->
<g id="chart" stroke="#222" fill="none">
<g stroke-width="1.3">
<line x1="122" y1="797" x2="431.6" y2="797"/>
<line x1="122" y1="811.9" x2="431.6" y2="811.9"/>
<line x1="122" y1="827" x2="431.6" y2="827"/>
<line x1="122" y1="842.2" x2="431.6" y2="842.2"/>
<line x1="122" y1="857.4" x2="431.6" y2="857.4"/>
<line x1="122" y1="872.5" x2="431.6" y2="872.5"/>
<line x1="122" y1="887.6" x2="431.6" y2="887.6"/>
<line x1="122" y1="902.6" x2="431.6" y2="902.6"/>
</g>
<g transform="translate(239,882) rotate(-18.8)"><rect x="-4" y="-13" width="118" height="16" fill="#fff" stroke="none"/></g>
<g stroke-width="1.3">
<line x1="122.5" y1="796.4" x2="122.5" y2="903.2"/>
<line x1="166.5" y1="796.4" x2="166.5" y2="903.2"/>
<line x1="210.5" y1="796.4" x2="210.5" y2="903.2"/>
<line x1="254.6" y1="796.4" x2="254.6" y2="903.2"/>
<line x1="298.7" y1="796.4" x2="298.7" y2="903.2"/>
<line x1="342.8" y1="796.4" x2="342.8" y2="903.2"/>
<line x1="386.9" y1="796.4" x2="386.9" y2="903.2"/>
<line x1="431" y1="796.4" x2="431" y2="903.2"/>
</g>
<rect x="123.5" y="812.8" width="110" height="13.4" fill="#fff" stroke="none"/>
<path d="M122.5,898.6 C129.8,898.1 151.8,897.0 166.5,895.6 C181.2,894.2 195.8,892.6 210.5,890.4 C225.2,888.2 239.9,886.2 254.6,882.6 C269.3,879.0 284.0,874.2 298.7,869.0 C313.4,863.8 328.1,857.5 342.8,851.3 C357.5,845.0 372.2,838.5 386.9,831.5 C401.6,824.5 423.6,812.8 431.0,809.0" stroke-width="1.5"/>
</g>
<g fill="#444" font-size="12.5">
  <text class="s" x="146" y="824.2" font-size="14" textLength="86" lengthAdjust="spacingAndGlyphs">32cSt oil 40℃</text>
  <g text-anchor="end">
  <text class="s" x="114.5" y="802" font-size="14" textLength="12.2" lengthAdjust="spacingAndGlyphs">14</text>
  <text class="s" x="114.5" y="832" font-size="14" textLength="12.2" lengthAdjust="spacingAndGlyphs">10</text>
  <text class="s" x="114.5" y="862.5" font-size="14" textLength="6.2" lengthAdjust="spacingAndGlyphs">6</text>
  <text class="s" x="114.5" y="892.5" font-size="14" textLength="6.2" lengthAdjust="spacingAndGlyphs">2</text>
  </g>
  <g text-anchor="middle">
  <text class="s" x="113" y="920.5" font-size="14" textLength="6.2" lengthAdjust="spacingAndGlyphs">0</text>
  <text class="s" x="167.5" y="920.5" font-size="14" textLength="12.2" lengthAdjust="spacingAndGlyphs">10</text>
  <text class="s" x="211.5" y="920.5" font-size="14" textLength="12.2" lengthAdjust="spacingAndGlyphs">20</text>
  <text class="s" x="255.5" y="920.5" font-size="14" textLength="12.2" lengthAdjust="spacingAndGlyphs">30</text>
  <text class="s" x="299.5" y="920.5" font-size="14" textLength="12.2" lengthAdjust="spacingAndGlyphs">40</text>
  <text class="s" x="343.5" y="920.5" font-size="14" textLength="12.2" lengthAdjust="spacingAndGlyphs">50</text>
  <text class="s" x="388" y="920.5" font-size="14" textLength="12.2" lengthAdjust="spacingAndGlyphs">60</text>
  <text class="s" x="432" y="920.5" font-size="14" textLength="12.2" lengthAdjust="spacingAndGlyphs">70</text>
  </g>
</g>
<text x="52" y="808" font-size="10" fill="#333">压力降 bar</text>
<text x="393" y="936" font-size="10.5" fill="#333">流量 l/min</text>
<g transform="translate(239,882) rotate(-18.8)">
  <text class="s" x="1" y="0" font-size="15.5" fill="#444" textLength="110" lengthAdjust="spacingAndGlyphs">Valve Full Open</text>
</g>
</svg>
</body></html>
